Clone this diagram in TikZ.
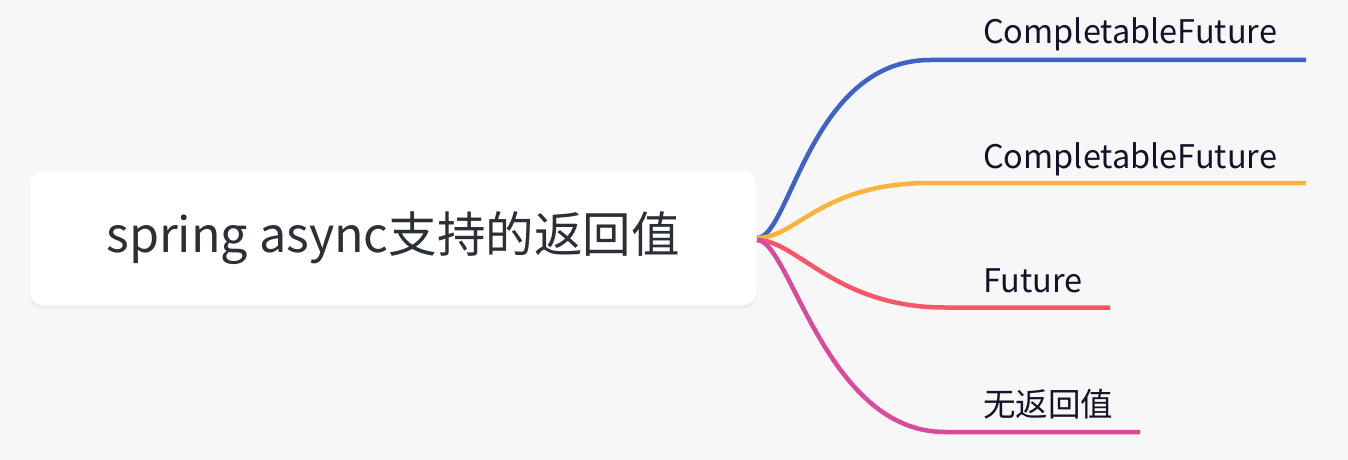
\documentclass[tikz,border=0pt]{standalone}
\usepackage{fontspec}
\setmainfont{Noto Sans CJK SC}
\usetikzlibrary{shadows}
\definecolor{bg}{HTML}{F7F7F7}
\definecolor{cblue}{HTML}{3F62C4}
\definecolor{corange}{HTML}{FBB33B}
\definecolor{cred}{HTML}{F5566A}
\definecolor{cmag}{HTML}{DA4A9B}
\definecolor{labc}{HTML}{12122A}
\definecolor{rootc}{HTML}{2B2F36}
\begin{document}
\begin{tikzpicture}[x=1pt,y=-1pt,
  branch/.style={line width=4.5pt, line cap=butt},
  lab/.style={anchor=base west, inner sep=0pt, font=\fontsize{32.5}{38}\selectfont, text=labc},
  rootbox/.style={fill=white, rounded corners=12pt, minimum width=726pt, minimum height=133pt,
    inner sep=0pt, font=\fontsize{48.5}{56}\selectfont, text=rootc,
    drop shadow={opacity=0.07, shadow xshift=0pt, shadow yshift=-4pt}}]
\useasboundingbox (0,0) rectangle (1348,460);
\fill[bg] (0,0) rectangle (1348,460);
\node[rootbox] (root) at (393,238.5) {spring async支持的返回值};
\coordinate (s) at (757,238);
\coordinate (s2) at (757,240);
\coordinate (k1) at (930,60);   \coordinate (t1) at (1306,60);
\coordinate (k2) at (930,183);  \coordinate (t2) at (1306,183);
\coordinate (k3) at (945,307.5); \coordinate (t3) at (1110,307.5);
\coordinate (k4) at (945,432);  \coordinate (t4) at (1140,432);
\draw[branch, cblue] (s) .. controls +(33,0) and +(-120,0) .. (k1) -- (t1);
\draw[branch, corange] (s) .. controls +(40,0) and +(-110,0) .. (k2) -- (t2);
\draw[branch, cred] (s2) .. controls +(40,0) and +(-110,0) .. (k3) -- (t3);
\draw[branch, cmag] (s2) .. controls +(33,0) and +(-120,0) .. (k4) -- (t4);
\node[lab] (l1) at (983,44) {CompletableFuture};
\node[lab] (l2) at (983,168) {CompletableFuture};
\node[lab] (l3) at (983,292) {Future};
\node[lab] (l4) at (983,416) {无返回值};
\end{tikzpicture}
\end{document}
